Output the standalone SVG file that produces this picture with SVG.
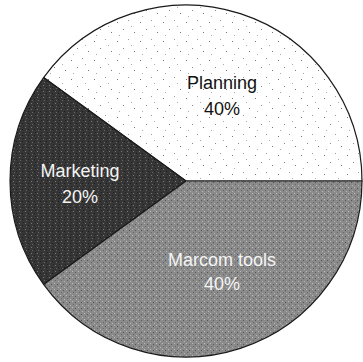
<svg xmlns="http://www.w3.org/2000/svg" width="363" height="362" viewBox="0 0 363 362">
  <style>
    .slice { stroke: #1a1a1a; stroke-width: 1.2; stroke-linejoin: round; }
    .lbl { font-family: "Liberation Sans", Arial, sans-serif; font-size: 18px; text-anchor: middle; }
    .dark { fill: #111111; }
    .light { fill: #f4f4f4; }
  </style>
  <defs>
    <pattern id="dots" width="23" height="19" patternUnits="userSpaceOnUse">
      <rect width="23" height="19" fill="#ffffff"/>
      <rect x="2" y="3" width="1" height="1" fill="#777"/>
      <rect x="13" y="1" width="1" height="1" fill="#999"/>
      <rect x="8" y="10" width="1" height="1" fill="#888"/>
      <rect x="19" y="13" width="1" height="1" fill="#777"/>
      <rect x="4" y="16" width="1" height="1" fill="#aaa"/>
      <rect x="16" y="7" width="1" height="1" fill="#aaa"/>
    </pattern>
    <pattern id="grainDark" width="6" height="6" patternUnits="userSpaceOnUse">
      <rect width="6" height="6" fill="#363636"/>
      <rect x="1" y="1" width="1" height="1" fill="#777"/>
      <rect x="4" y="3" width="1" height="1" fill="#1a1a1a"/>
      <rect x="2" y="4" width="1" height="1" fill="#666"/>
      <rect x="5" y="0" width="1" height="1" fill="#222"/>
    </pattern>
    <pattern id="grainMid" width="6" height="6" patternUnits="userSpaceOnUse">
      <rect width="6" height="6" fill="#8a8a8a"/>
      <rect x="0" y="1" width="1" height="1" fill="#bbb"/>
      <rect x="3" y="2" width="1" height="1" fill="#555"/>
      <rect x="1" y="4" width="1" height="1" fill="#666"/>
      <rect x="4" y="5" width="1" height="1" fill="#b5b5b5"/>
    </pattern>
  </defs>

  <g id="planning">
    <path class="slice" d="M186,181 L362,181 A176,176 0 0 0 43.6,77.6 Z" fill="url(#dots)"/>
    <text class="lbl dark" x="222" y="89">Planning</text>
    <text class="lbl dark" x="222" y="115">40%</text>
  </g>

  <g id="marketing">
    <path class="slice" d="M186,181 L43.6,77.6 A176,176 0 0 0 43.6,284.4 Z" fill="url(#grainDark)"/>
    <text class="lbl light" x="80" y="177">Marketing</text>
    <text class="lbl light" x="80" y="203">20%</text>
  </g>

  <g id="marcom-tools">
    <path class="slice" d="M186,181 L43.6,284.4 A176,176 0 0 0 362,181 Z" fill="url(#grainMid)"/>
    <text class="lbl light" x="222" y="266">Marcom tools</text>
    <text class="lbl light" x="222" y="290">40%</text>
  </g>

  <g id="connectors"/>
</svg>
